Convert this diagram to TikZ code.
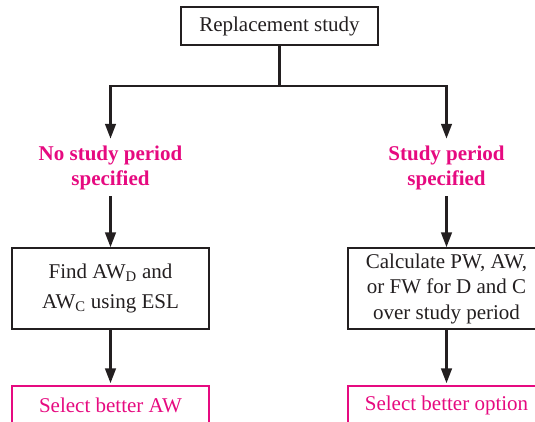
\documentclass[tikz,border=0pt]{standalone}
\usepackage{fontspec}
\setmainfont{Liberation Serif}
\usetikzlibrary{arrows.meta}
\definecolor{pinkc}{RGB}{230,10,128}
\definecolor{inkc}{RGB}{35,31,32}
\begin{document}
\begin{tikzpicture}[x=1pt,y=-1pt,
  font=\fontsize{21}{25.5}\selectfont,
  box/.style={draw=inkc,line width=1.3pt,text=inkc,minimum width=197pt,align=center,inner sep=0pt},
  pinkbox/.style={draw=pinkc,line width=1.3pt,text=pinkc,minimum width=197pt,minimum height=38pt,inner sep=0pt},
  lab/.style={text=pinkc,font=\fontsize{21}{25}\selectfont\bfseries,align=center,inner xsep=0pt,inner ysep=6.5pt},
  conn/.style={draw=inkc,line width=2.8pt},
  arr/.style={conn,-{Triangle[length=15pt,width=10.5pt]}}
]
\useasboundingbox (0,0) rectangle (535,421);
\clip (0,0) rectangle (535,421);
\node[box,minimum height=38pt] (top) at (279.5,26) {Replacement study};
\coordinate (j) at (279.5,86);
\node[lab] (ll) at (110.5,167.5) {No study period\\specified};
\node[lab] (rl) at (446.5,167.5) {Study period\\specified};
\node[box,minimum height=81pt] (lb) at (110.5,288.5) {Find AW\textsubscript{D} and\\[5pt]AW\textsubscript{C} using ESL};
\node[box,minimum height=81pt] (rb) at (446.5,288.5) {Calculate PW, AW,\\or FW for D and C\\over study period};
\node[pinkbox] (lo) at (110.5,405) {Select better AW};
\node[pinkbox] (ro) at (446.5,405) {Select better option};
\draw[conn] (top.south) -- (j);
\draw[arr] (j) -| (ll.north);
\draw[arr] (j) -| (rl.north);
\draw[arr] (ll.south) -- (lb.north);
\draw[arr] (rl.south) -- (rb.north);
\draw[arr,shorten >=2pt] (lb.south) -- (lo.north);
\draw[arr,shorten >=2pt] (rb.south) -- (ro.north);
\end{tikzpicture}
\end{document}
